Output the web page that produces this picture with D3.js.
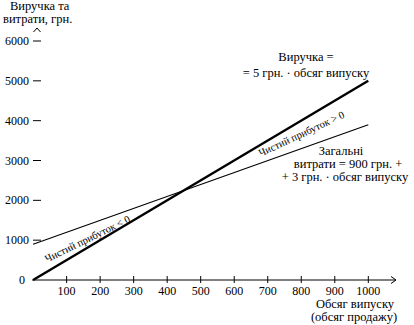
<!DOCTYPE html>
<html>
<head>
<meta charset="utf-8">
<script src="https://cdn.jsdelivr.net/npm/d3@7"></script>
<style>
  html, body { margin: 0; padding: 0; background: #fff; }
  svg { display: block; }
  text { font-family: "Liberation Serif", "Times New Roman", serif; fill: #000; }
</style>
</head>
<body>
<svg id="chart" width="414" height="325"></svg>
<script>
// Output volume (units) at the ends of each line
const volume = [0, 1000];
// Revenue = 5 грн. × volume
const revenue = [0, 5000];
// Total costs = 900 грн. + 3 грн. × volume
const costs = [900, 3900];

const xTicks = [100, 200, 300, 400, 500, 600, 700, 800, 900, 1000];
const yTicks = [0, 1000, 2000, 3000, 4000, 5000, 6000];

const svg = d3.select("#chart");

const x = d3.scaleLinear().domain([0, 1000]).range([33.1, 368.3]);
const y = d3.scaleLinear().domain([0, 6000]).range([280, 41]);

// X axis: baseline with arrow, ticks crossing the line
const xAxis = svg.append("g").attr("transform", `translate(0,${y(0)})`);
xAxis.append("line")
  .attr("x1", x(0) - 1).attr("x2", 396)
  .attr("stroke", "#000").attr("stroke-width", 1);
xAxis.append("path")
  .attr("d", "M391,-3.5 L396,0 L391,3.5")
  .attr("fill", "none").attr("stroke", "#000").attr("stroke-width", 1);
xAxis.selectAll("line.tick").data(xTicks).join("line")
  .attr("class", "tick")
  .attr("x1", d => x(d)).attr("x2", d => x(d))
  .attr("y1", -4).attr("y2", 3)
  .attr("stroke", "#000").attr("stroke-width", 1);
xAxis.selectAll("text.tick").data(xTicks).join("text")
  .attr("class", "tick")
  .attr("x", d => x(d)).attr("y", 15)
  .attr("text-anchor", "middle")
  .attr("font-size", 12)
  .text(d => d);

// Y axis: labels with short dashes, no spine; caret at the top
const yAxis = svg.append("g");
yAxis.selectAll("text").data(yTicks).join("text")
  .attr("x", d => d === 0 ? 25 : 29).attr("y", d => y(d) + 4)
  .attr("text-anchor", "end")
  .attr("font-size", 12)
  .text(d => d);
yAxis.selectAll("line").data(yTicks.filter(d => d > 0)).join("line")
  .attr("x1", 33).attr("x2", 41)
  .attr("y1", d => y(d)).attr("y2", d => y(d))
  .attr("stroke", "#000").attr("stroke-width", 1);
svg.append("path")
  .attr("d", "M33.5,32 L37,28 L40.5,32")
  .attr("fill", "none").attr("stroke", "#000").attr("stroke-width", 1);

// Axis titles
const yTitle = svg.append("text").attr("font-size", 12.5);
yTitle.append("tspan").attr("x", 10).attr("y", 10).text("Виручка та");
yTitle.append("tspan").attr("x", 3).attr("y", 23).text("витрати, грн.");

const xTitle = svg.append("text").attr("font-size", 12.5).attr("text-anchor", "middle");
xTitle.append("tspan").attr("x", 355).attr("y", 308).text("Обсяг випуску");
xTitle.append("tspan").attr("x", 354).attr("y", 321).text("(обсяг продажу)");

// Lines
const line = d3.line().x(d => x(d[0])).y(d => y(d[1]));
svg.append("path")
  .datum(d3.zip(volume, costs))
  .attr("d", line)
  .attr("fill", "none").attr("stroke", "#000").attr("stroke-width", 1.1);
svg.append("path")
  .datum(d3.zip(volume, revenue))
  .attr("d", line)
  .attr("fill", "none").attr("stroke", "#000").attr("stroke-width", 2.4);

// Line annotations
const revLabel = svg.append("text").attr("font-size", 12.5).attr("text-anchor", "middle");
revLabel.append("tspan").attr("x", 306).attr("y", 61).text("Виручка =");
revLabel.append("tspan").attr("x", 306).attr("y", 77).text("= 5 грн. · обсяг випуску");

const costLabel = svg.append("text").attr("font-size", 12.5).attr("text-anchor", "middle");
costLabel.append("tspan").attr("x", 341).attr("y", 155).text("Загальні");
costLabel.append("tspan").attr("x", 348).attr("y", 168).text("витрати = 900 грн. +");
costLabel.append("tspan").attr("x", 345).attr("y", 181).text("+ 3 грн. · обсяг випуску");

// Profit / loss zone labels, rotated between the two lines
svg.append("text")
  .attr("font-size", 10.5)
  .attr("text-anchor", "middle")
  .attr("transform", "translate(303,137) rotate(-25)")
  .text("Чистий прибуток > 0");
svg.append("text")
  .attr("font-size", 10.5)
  .attr("text-anchor", "middle")
  .attr("transform", "translate(89,242) rotate(-26)")
  .text("Чистий прибуток < 0");
</script>
</body>
</html>
